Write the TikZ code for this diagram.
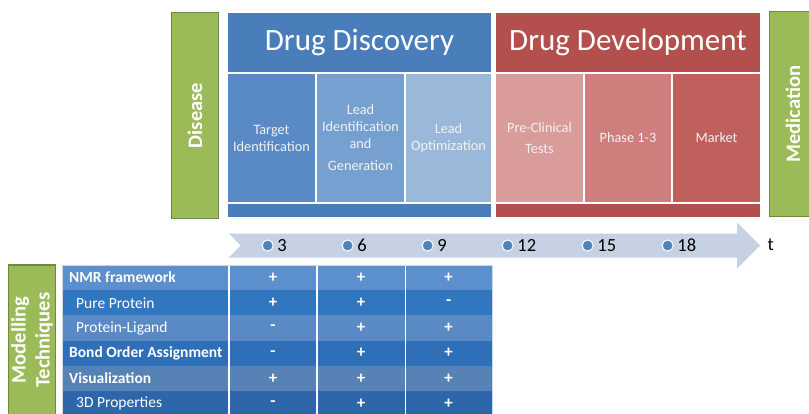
\documentclass[tikz,border=0pt]{standalone}
\usepackage{fontspec}
\setmainfont{Carlito}

\definecolor{discblue}{HTML}{4A7EBB}
\definecolor{targblue}{HTML}{5A8AC6}
\definecolor{leadblue}{HTML}{76A0CF}
\definecolor{optblue}{HTML}{9AB8D9}
\definecolor{devred}{HTML}{B3504E}
\definecolor{preclred}{HTML}{D99C9B}
\definecolor{phasered}{HTML}{CE7E7C}
\definecolor{marketred}{HTML}{C0605D}
\definecolor{boxgreen}{HTML}{9BBB59}
\definecolor{boxgreenline}{HTML}{71893F}
\definecolor{axisfill}{HTML}{C6D2E4}
\definecolor{tickblue}{HTML}{4F81BD}
\definecolor{tabedge}{HTML}{CAD8EA}
\definecolor{row0}{HTML}{5B8FCE}
\definecolor{row1}{HTML}{3177C0}
\definecolor{row2}{HTML}{5A8AC6}
\definecolor{row3}{HTML}{2F6FB7}
\definecolor{row4}{HTML}{5782B5}
\definecolor{row5}{HTML}{2D67A9}

\tikzset{
  headbox/.style={draw=white, line width=2pt, inner sep=0pt, outer sep=0pt, text=white, font=\fontsize{31}{36}\selectfont},
  stagebox/.style={draw=white, line width=2pt, inner sep=0pt, outer sep=0pt, text=white!95!black, align=center, font=\fontsize{14.3}{17}\selectfont},
  sidebox/.style={draw=boxgreenline, fill=boxgreen, line width=1.5pt, inner sep=0pt, rotate=90, text=white, align=center, font=\bfseries\fontsize{20.5}{24}\selectfont},
  tabrow/.style={fill=row#1, minimum width=430pt, minimum height=25.2pt, inner sep=0pt, outer sep=0pt},
  tablabel/.style={anchor=west, inner sep=0pt, text=white, font=\fontsize{15.5}{18}\selectfont},
  tabsign/.style={text=white, inner sep=0pt, font=\bfseries\fontsize{17}{18}\selectfont},
  dotmark/.style={circle, fill=tickblue, draw=white, line width=1pt, minimum size=11pt, inner sep=0pt},
  ticklabel/.style={anchor=west, inner sep=0pt, font=\fontsize{18.5}{22}\selectfont}
}

\begin{document}
\begin{tikzpicture}[x=1pt, y=-1pt]

\useasboundingbox (0,0) rectangle (809,413);
\clip (0,0) rectangle (809,413);

% side boxes
\node (disease) at (195,115.5)[sidebox, minimum width=206pt, minimum height=47pt]{Disease};
\node (medication) at (793,114)[sidebox, minimum width=205pt, minimum height=47pt]{Medication};
\node (modelling) at (32,340)[sidebox, minimum width=150pt, minimum height=47pt]{Modelling\\Techniques};

% drug discovery
\node (disc) at (359.5,42.5)[headbox, fill=discblue, minimum width=265pt, minimum height=62pt]{Drug Discovery};
\node (targ) at (271.5,138)[stagebox, fill=targblue, minimum width=89pt, minimum height=130pt]{Target\\Identification};
\node (leadid) at (360.5,138)[stagebox, fill=leadblue, minimum width=89pt, minimum height=130pt]{Lead\\Identification\\and\\[5pt]Generation};
\node (leadopt) at (448.5,138)[stagebox, fill=optblue, minimum width=87pt, minimum height=130pt]{Lead\\Optimization};
\node (discbar) at (359.5,210.5)[stagebox, fill=discblue, minimum width=265pt, minimum height=15pt]{};

% drug development
\node (dev) at (628,42.5)[headbox, fill=devred, minimum width=266pt, minimum height=62pt]{Drug Development};
\node (precl) at (539.5,138)[stagebox, fill=preclred, minimum width=89pt, minimum height=130pt]{Pre-Clinical\\[4.6pt]Tests};
\node (phase) at (628,138)[stagebox, fill=phasered, minimum width=88pt, minimum height=130pt]{Phase 1-3};
\node (market) at (716.5,138)[stagebox, fill=marketred, minimum width=89pt, minimum height=130pt]{Market};
\node (devbar) at (628,210.5)[stagebox, fill=devred, minimum width=266pt, minimum height=15pt]{};

% time axis
\fill[axisfill] (229,233.5) -- (737,233.5) -- (737,222.5) -- (760,245.5) -- (737,268.5)
  -- (737,257.5) -- (229,257.5) -- (240.5,245.5) -- cycle;
\foreach \m [count=\i from 0] in {3,6,...,18}
{
\node (dot\m) at (267.7+80*\i,245.5)[dotmark]{};
\node (num\m) at ([xshift=3.5pt]dot\m.east)[ticklabel]{\m};
}
\node (t) at (767.5,245)[ticklabel]{t};

% table
\foreach \txt/\ind/\a/\b/\c [count=\r from 0] in {
  {\bfseries NMR framework}/0/+/+/+,
  {Pure Protein}/7/+/+/-,
  {Protein-Ligand}/7/-/+/+,
  {\bfseries Bond Order Assignment}/0/-/+/+,
  {\bfseries Visualization}/0/+/+/+,
  {3D Properties}/7/-/+/+}
{
\node (row\r) at (277,277.6+25.2*\r)[tabrow=\r]{};
\node (lab\r) at ([xshift={(7+\ind)*1pt}]row\r.west)[tablabel]{\txt};
\foreach \v/\cx [count=\k] in {\a/273,\b/361,\c/448.7}
{
\node (sign\r-\k) at (\cx,277.6+25.2*\r)[tabsign]{\v};
}
}
\foreach \sx in {229,317,405.5}
{
\draw[white, line width=1.8pt] (\sx,265) -- (\sx,418);
}
\draw[tabedge, line width=0.8pt] (row0.north west) rectangle (row5.south east);

\end{tikzpicture}
\end{document}
